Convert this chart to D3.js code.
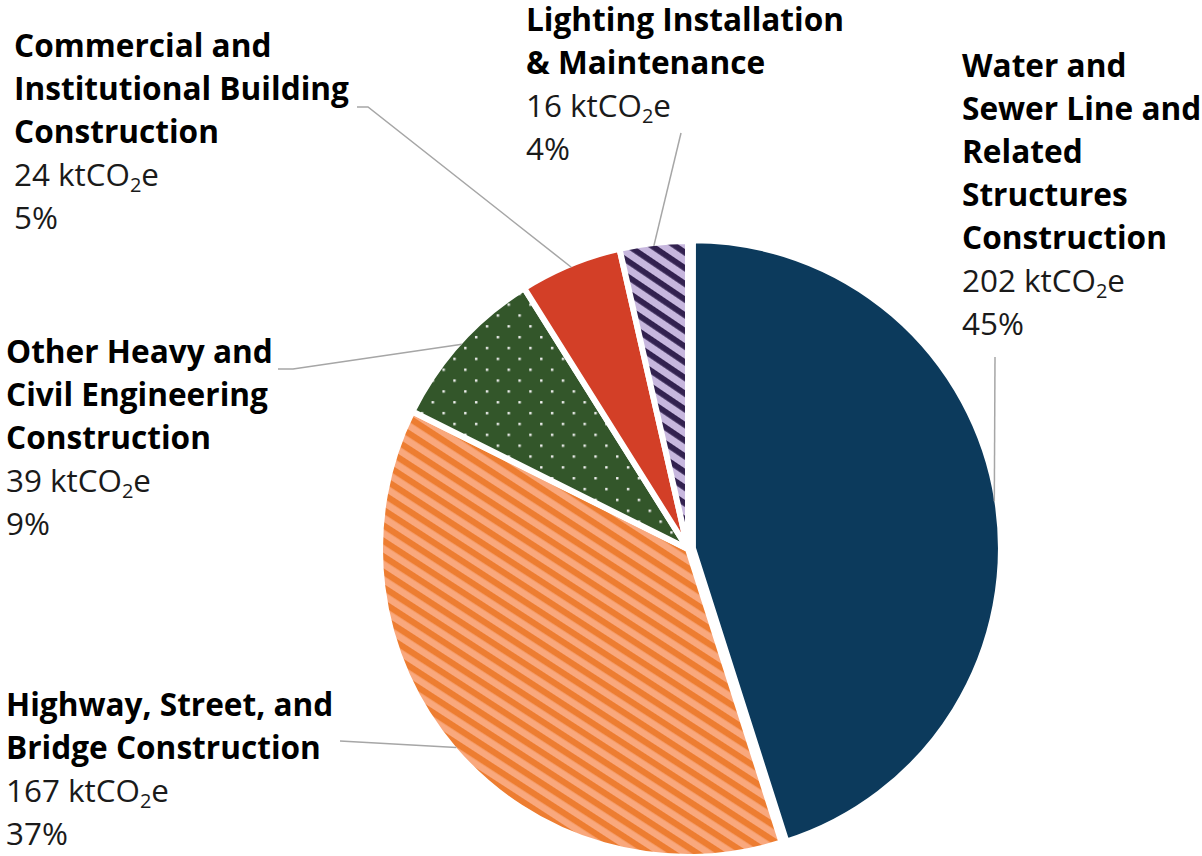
<!DOCTYPE html>
<html>
<head>
<meta charset="utf-8">
<script src="https://cdn.jsdelivr.net/npm/d3@7"></script>
<style>
  html, body { margin: 0; padding: 0; background: #fff; }
  svg { display: block; font-family: "Open Sans", sans-serif; }
</style>
</head>
<body>
<div id="chart"></div>
<script>
// data
const categories = [
  'Water and Sewer Line and Related Structures Construction',
  'Highway, Street, and Bridge Construction',
  'Other Heavy and Civil Engineering Construction',
  'Commercial and Institutional Building Construction',
  'Lighting Installation & Maintenance'
];
const values = [202, 167, 39, 24, 16];
const labelLines = [
  ['Water and', 'Sewer Line and', 'Related', 'Structures', 'Construction'],
  ['Highway, Street, and', 'Bridge Construction'],
  ['Other Heavy and', 'Civil Engineering', 'Construction'],
  ['Commercial and', 'Institutional Building', 'Construction'],
  ['Lighting Installation', '& Maintenance']
];
const unit = 'kt';

// layout
const width = 1202;
const height = 856;
const cx = 688;
const cy = 549;
const radius = 308;
const lineH = 43;

const labelPos = [
  { x: 962, y: 77, lead: [[995, 357]] },
  { x: 6, y: 716, lead: [[340, 741]] },
  { x: 6, y: 363, lead: [[278, 369], [293, 369]] },
  { x: 14, y: 57, lead: [[357, 107], [368, 107]] },
  { x: 526, y: 31, lead: [[681, 133]] }
];
const explode = [5, 0, 0, 0, 0];

const svg = d3.select('#chart')
  .append('svg')
  .attr('width', width)
  .attr('height', height);

const defs = svg.append('defs');

// orange wide diagonal
const pOrange = defs.append('pattern')
  .attr('id', 'pOrange')
  .attr('patternUnits', 'userSpaceOnUse')
  .attr('width', 13).attr('height', 13)
  .attr('patternTransform', 'rotate(33)');
pOrange.append('rect').attr('width', 13).attr('height', 13).attr('fill', '#f9a87d');
pOrange.append('rect').attr('width', 13).attr('height', 6.3).attr('fill', '#ed7d31');

// purple diagonal
const pPurple = defs.append('pattern')
  .attr('id', 'pPurple')
  .attr('patternUnits', 'userSpaceOnUse')
  .attr('width', 13).attr('height', 13)
  .attr('patternTransform', 'rotate(34)');
pPurple.append('rect').attr('width', 13).attr('height', 13).attr('fill', '#c7b7de');
pPurple.append('rect').attr('width', 13).attr('height', 5.8).attr('fill', '#32214f');

// green dots
const pGreen = defs.append('pattern')
  .attr('id', 'pGreen')
  .attr('patternUnits', 'userSpaceOnUse')
  .attr('width', 21.7).attr('height', 21.7);
pGreen.append('rect').attr('width', 21.7).attr('height', 21.7).attr('fill', '#33562a');
pGreen.append('rect').attr('x', 4).attr('y', 4).attr('width', 2.4).attr('height', 2.4).attr('fill', '#f2f2f2');
pGreen.append('rect').attr('x', 14.85).attr('y', 14.85).attr('width', 2.4).attr('height', 2.4).attr('fill', '#f2f2f2');

const fills = ['#0c3a5c', 'url(#pOrange)', 'url(#pGreen)', '#d33f27', 'url(#pPurple)'];

const pie = d3.pie()
  .sort(null)
  .value((d) => d);

const arcs = pie(values);
const total = d3.sum(values);

const arc = d3.arc()
  .innerRadius(0)
  .outerRadius(radius);

const edge = d3.arc()
  .innerRadius(radius - 3)
  .outerRadius(radius - 3);

const wrapper = svg.append('g')
  .attr('transform', `translate(${cx}, ${cy})`);

const offset = (d, i) => {
  const a = (d.startAngle + d.endAngle) / 2;
  return [Math.sin(a) * explode[i], -Math.cos(a) * explode[i]];
};

wrapper.selectAll('path.slice')
  .data(arcs)
  .enter()
  .append('path')
  .attr('class', 'slice')
  .attr('transform', (d, i) => `translate(${offset(d, i)})`)
  .attr('fill', (d, i) => fills[i])
  .attr('stroke', '#fff')
  .attr('stroke-width', 6)
  .attr('stroke-linejoin', 'miter')
  .attr('d', arc);

// leader lines
const line = d3.line();
svg.selectAll('path.leader')
  .data(arcs)
  .enter()
  .append('path')
  .attr('class', 'leader')
  .attr('fill', 'none')
  .attr('stroke', '#a6a6a6')
  .attr('stroke-width', 1.5)
  .attr('d', (d, i) => {
    const c = edge.centroid(d);
    const o = offset(d, i);
    const end = [cx + c[0] + o[0], cy + c[1] + o[1]];
    return line(labelPos[i].lead.concat([end]));
  });

// labels
const labels = svg.selectAll('text.label')
  .data(arcs)
  .enter()
  .append('text')
  .attr('class', 'label')
  .attr('font-size', 31.4)
  .attr('fill', '#000');

labels.each(function (d, i) {
  const t = d3.select(this);
  const pos = labelPos[i];
  const lines = labelLines[i];
  lines.forEach((s, j) => {
    t.append('tspan')
      .attr('x', pos.x)
      .attr('y', pos.y + j * lineH)
      .attr('font-weight', 700)
      .attr('font-size', 31.6)
      .text(s);
  });
  const yv = pos.y + lines.length * lineH;
  t.append('tspan')
    .attr('x', pos.x)
    .attr('y', yv)
    .attr('fill', '#1a1a1a')
    .text(`${values[i]} ${unit}CO`);
  t.append('tspan')
    .attr('font-size', 20)
    .attr('dy', 6)
    .attr('fill', '#1a1a1a')
    .text('2');
  t.append('tspan')
    .attr('dy', -6)
    .attr('fill', '#1a1a1a')
    .text('e');
  t.append('tspan')
    .attr('x', pos.x)
    .attr('y', yv + lineH)
    .attr('fill', '#1a1a1a')
    .text(`${Math.round(values[i] / total * 100)}%`);
});
</script>
</body>
</html>
